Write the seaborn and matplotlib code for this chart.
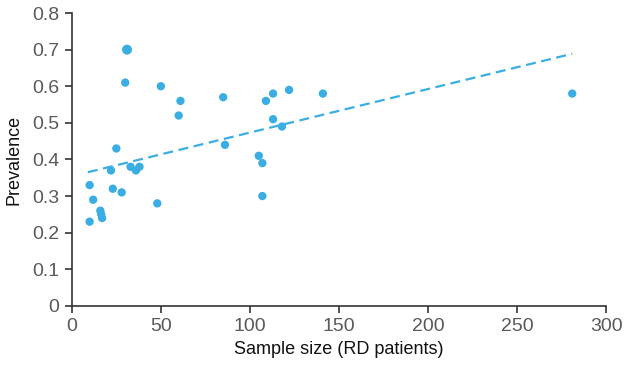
import numpy as np
import pandas as pd
import matplotlib
matplotlib.use("Agg")
import matplotlib.pyplot as plt
import seaborn as sns

sample_size = [31, 30, 50, 61, 60, 25, 22, 33, 36, 38, 10, 23, 28, 12, 48, 16, 16.5, 17, 10,
               85, 113, 109, 122, 141, 113, 118, 86, 105, 107, 107, 281]
prevalence = [0.70, 0.61, 0.60, 0.56, 0.52, 0.43, 0.37, 0.38, 0.37, 0.38, 0.33, 0.32, 0.31, 0.29, 0.28, 0.26, 0.25, 0.24, 0.23,
              0.57, 0.58, 0.56, 0.59, 0.58, 0.51, 0.49, 0.44, 0.41, 0.39, 0.30, 0.58]
point_size = [2] + [1] * 30

x_ticks = [0, 50, 100, 150, 200, 250, 300]
y_ticks = [0, 0.1, 0.2, 0.3, 0.4, 0.5, 0.6, 0.7, 0.8]
y_tick_labels = ["0", "0.1", "0.2", "0.3", "0.4", "0.5", "0.6", "0.7", "0.8"]

df = pd.DataFrame({"n": sample_size, "p": prevalence, "s": point_size})

sns.set_style("ticks")
plt.rcParams["font.family"] = ["Liberation Sans", "DejaVu Sans"]

color = "#3aaee2"
fig = plt.figure(figsize=(6.3, 3.73), dpi=100)
ax = fig.add_axes([0.114, 0.18, 0.848, 0.785])

sns.scatterplot(data=df, x="n", y="p", size="s", sizes={1: 36, 2: 52}, color=color,
                edgecolor="none", legend=False, ax=ax, zorder=3)

coef = np.polyfit(df["n"], df["p"], 1)
xs = np.array([df["n"].min() - 1, df["n"].max()])
ax.plot(xs, np.polyval(coef, xs), color=color, lw=1.6, dashes=(4.5, 2.5), zorder=2)

ax.set_xlim(0, 300)
ax.set_ylim(0, 0.8)
ax.set_xticks(x_ticks)
ax.set_yticks(y_ticks)
ax.set_yticklabels(y_tick_labels)
ax.set_xlabel("Sample size (RD patients)", fontsize=13, color="#111111", labelpad=4)
ax.set_ylabel("Prevalence", fontsize=13, color="#111111")
ax.yaxis.set_label_coords(-0.092, 0.5)
ax.tick_params(axis="both", labelsize=14, labelcolor="#5a5a5a", color="#333333",
               length=5, width=1.2, direction="out", pad=4)
for sp in ["left", "bottom"]:
    ax.spines[sp].set_color("#333333")
    ax.spines[sp].set_linewidth(1.2)
sns.despine(ax=ax)

fig.savefig("out.png", dpi=100)
